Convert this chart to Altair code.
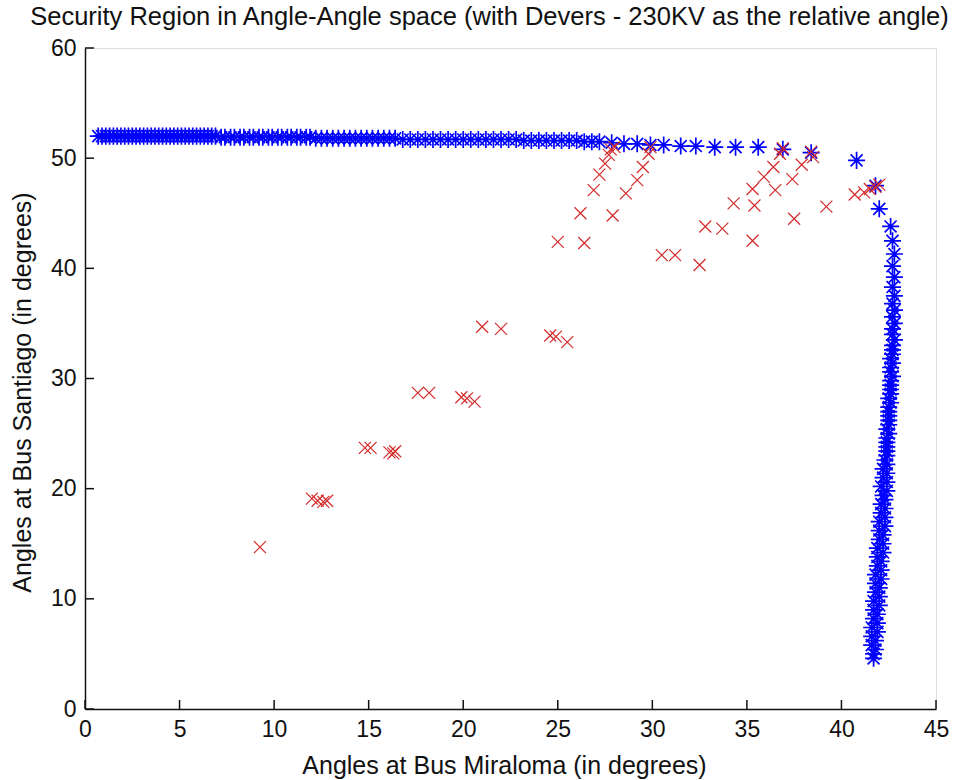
import altair as alt
import pandas as pd

title_text = "Security Region in Angle-Angle space (with Devers - 230KV as the relative angle)"
x_title = "Angles at Bus Miraloma (in degrees)"
y_title = "Angles at Bus Santiago (in degrees)"

# Blue '*' : security boundary, upper branch
upper_x = [0.7, 0.9, 1.1, 1.3, 1.5, 1.7, 1.9, 2.1, 2.3, 2.5, 2.7, 2.9, 3.1, 3.3, 3.5, 3.7,
           3.9, 4.1, 4.3, 4.5, 4.7, 4.9, 5.1, 5.3, 5.5, 5.7, 5.9, 6.1, 6.3, 6.5, 6.7, 6.9,
           7.2, 7.4, 7.7, 7.9, 8.2, 8.4, 8.7, 8.9, 9.2, 9.4, 9.7, 9.9, 10.2, 10.4, 10.7, 10.9,
           11.2, 11.4, 11.7, 11.9,
           12.2, 12.5, 12.8, 13.1, 13.4, 13.7, 14.0, 14.3, 14.6, 14.9, 15.2, 15.5, 15.8, 16.1, 16.4,
           16.8, 17.2, 17.6, 18.0, 18.4, 18.8, 19.2, 19.6, 20.0, 20.4, 20.8, 21.2, 21.6, 22.0,
           22.4, 22.8, 23.2, 23.6, 24.0, 24.4, 24.8, 25.2, 25.6, 26.0, 26.4, 26.8, 27.2,
           27.85, 28.5, 29.2, 29.9, 30.6, 31.5, 32.3, 33.3, 34.4, 35.6, 36.9, 38.4, 40.8, 41.8, 42.0]
upper_y = [52.0, 52.0, 52.0, 52.0, 52.0, 52.0, 52.0, 52.0, 52.0, 52.0, 52.0, 52.0, 52.0, 52.0, 52.0, 52.0,
           52.0, 52.0, 52.0, 52.0, 52.0, 52.0, 52.0, 52.0, 52.0, 52.0, 52.0, 52.0, 52.0, 52.0, 52.0, 52.0,
           51.9, 51.9, 51.9, 51.9, 51.9, 51.9, 51.9, 51.9, 51.9, 51.9, 51.9, 51.9, 51.9, 51.9, 51.9, 51.9,
           51.9, 51.9, 51.9, 51.9,
           51.8, 51.8, 51.8, 51.8, 51.8, 51.8, 51.8, 51.8, 51.8, 51.8, 51.8, 51.8, 51.8, 51.8, 51.8,
           51.7, 51.7, 51.7, 51.7, 51.7, 51.7, 51.7, 51.7, 51.7, 51.7, 51.7, 51.7, 51.7, 51.7,
           51.7, 51.7, 51.6, 51.6, 51.6, 51.6, 51.6, 51.6, 51.6, 51.6, 51.5, 51.5, 51.5,
           51.4, 51.3, 51.3, 51.2, 51.2, 51.1, 51.1, 51.0, 51.0, 51.0, 50.8, 50.5, 49.8, 47.5, 45.4]

# Blue '*' : security boundary, right branch
right_x = [42.6, 42.7, 42.8, 42.7, 42.8, 42.7, 42.8, 42.7, 42.8, 42.7, 42.8, 42.7, 42.7, 42.8,
           42.7, 42.7, 42.7, 42.6, 42.7, 42.6, 42.6, 42.7, 42.6, 42.6, 42.6, 42.6, 42.5, 42.6,
           42.5, 42.5, 42.5, 42.5, 42.5, 42.4, 42.5, 42.4, 42.4, 42.4, 42.4, 42.4, 42.3, 42.4,
           42.2, 42.4, 42.2, 42.4, 42.1, 42.4, 42.2, 42.3, 42.1, 42.3, 42.1, 42.3, 42.0, 42.3,
           42.0, 42.2, 42.0, 42.2, 41.9, 42.2, 41.9, 42.1, 41.9, 42.1, 41.8, 42.1, 41.8, 42.0,
           41.8, 42.0, 41.7, 42.0, 41.7, 41.9, 41.7, 41.9, 41.6, 41.9, 41.6, 41.8, 41.6, 41.8,
           41.7, 41.7]
right_y = [43.8, 42.5, 41.3, 40.2, 39.2, 38.3, 37.5, 36.8, 36.2, 35.6, 35.0, 34.5, 34.0, 33.5,
           33.0, 32.6, 32.2, 31.8, 31.4, 31.0, 30.6, 30.2, 29.8, 29.4, 29.0, 28.6, 28.2, 27.8,
           27.4, 27.0, 26.6, 26.2, 25.8, 25.4, 25.0, 24.6, 24.2, 23.8, 23.4, 23.0, 22.6, 22.2,
           21.8, 21.4, 21.0, 20.6, 20.2, 19.8, 19.4, 19.0, 18.6, 18.2, 17.8, 17.4, 17.0, 16.6,
           16.2, 15.8, 15.4, 15.0, 14.6, 14.2, 13.8, 13.4, 13.0, 12.6, 12.2, 11.8, 11.4, 11.0,
           10.6, 10.2, 9.8, 9.4, 9.0, 8.6, 8.2, 7.8, 7.4, 7.0, 6.6, 6.2, 5.8, 5.4,
           5.0, 4.6]

# Red 'x' : operating points
red_x = [9.25, 12.0, 12.3, 12.6, 12.8, 14.8, 15.1, 16.1, 16.3, 16.4, 17.6, 18.2,
         19.9, 20.2, 20.6, 21.0, 22.0, 24.6, 24.9, 25.5,
         25.0, 26.4, 26.2, 26.9, 27.2, 27.5, 27.7, 27.8, 28.0,
         27.9, 28.6, 29.2, 29.5, 29.8, 29.9,
         30.5, 31.2, 32.5, 32.8, 33.7, 34.3, 35.3, 35.4, 35.3, 35.9, 36.4, 36.75, 36.9,
         36.5, 37.4, 37.5, 37.9, 38.5, 38.4, 39.2, 40.7, 41.2, 41.5, 41.8, 42.0]
red_y = [14.7, 19.1, 18.9, 18.8, 18.9, 23.7, 23.7, 23.3, 23.2, 23.4, 28.7, 28.7,
         28.3, 28.2, 27.9, 34.7, 34.5, 33.9, 33.8, 33.3,
         42.4, 42.3, 45.0, 47.1, 48.5, 49.5, 50.3, 50.8, 51.0,
         44.8, 46.8, 48.0, 49.2, 50.4, 51.0,
         41.2, 41.2, 40.3, 43.8, 43.6, 45.9, 42.5, 45.7, 47.2, 48.3, 49.2, 50.4, 50.9,
         47.1, 48.1, 44.5, 49.4, 50.1, 50.6, 45.6, 46.7, 46.9, 47.2, 47.4, 47.6]

x_ticks = [0, 5, 10, 15, 20, 25, 30, 35, 40, 45]
y_ticks = [0, 10, 20, 30, 40, 50, 60]

STAR = "M-1,0L1,0M0,-1L0,1M-0.7,-0.7L0.7,0.7M-0.7,0.7L0.7,-0.7"
XMARK = "M-1,-1L1,1M-1,1L1,-1"

W, H = 851, 661
FONT = "Liberation Sans"

blue_df = pd.DataFrame({"x": upper_x + right_x, "y": upper_y + right_y})
red_df = pd.DataFrame({"x": red_x, "y": red_y})
xt_df = pd.DataFrame({"v": x_ticks})
yt_df = pd.DataFrame({"v": y_ticks})

xs = alt.Scale(domain=[0, 45], nice=False, zero=False)
ys = alt.Scale(domain=[0, 60], nice=False, zero=False)

common_axis = dict(grid=False, ticks=False, domainColor="#111111", domainWidth=1.5,
                   labelFont=FONT, labelFontSize=23, labelColor="#111111",
                   titleFont=FONT, titleFontSize=25, titleFontWeight="normal",
                   titleColor="#111111", labelFlush=False)
x_axis = alt.Axis(values=x_ticks, title=x_title, labelPadding=9,
                  titleX=419, titleY=56, titleBaseline="middle", titleAlign="center",
                  **common_axis)
y_axis = alt.Axis(values=y_ticks, title=y_title, labelPadding=9,
                  titleX=-63, titleY=344, titleBaseline="middle", titleAlign="center",
                  titleAngle=270, **common_axis)

blue = alt.Chart(blue_df).mark_point(
    shape=STAR, size=290, stroke="#0000ff", strokeWidth=1.7, filled=False, opacity=1
).encode(
    x=alt.X("x:Q", scale=xs, axis=x_axis),
    y=alt.Y("y:Q", scale=ys, axis=y_axis),
)

red = alt.Chart(red_df).mark_point(
    shape=XMARK, size=144, stroke="#d42a2a", strokeWidth=1.2, filled=False, opacity=1
).encode(
    x=alt.X("x:Q", scale=xs, axis=x_axis),
    y=alt.Y("y:Q", scale=ys, axis=y_axis),
)

xticks = alt.Chart(xt_df).mark_rule(color="#111111", strokeWidth=1.5).encode(
    x=alt.X("v:Q", scale=xs, axis=x_axis),
    y=alt.value(H),
    y2=alt.value(H - 9),
)

yticks = alt.Chart(yt_df).mark_rule(color="#111111", strokeWidth=1.5).encode(
    y=alt.Y("v:Q", scale=ys, axis=y_axis),
    x=alt.value(0),
    x2=alt.value(9),
)

chart = alt.layer(blue, red, xticks, yticks).properties(
    width=W,
    height=H,
    autosize="none",
    padding={"left": 85, "top": 48, "right": 19, "bottom": 71},
    title=alt.TitleParams(text=title_text, font=FONT, fontSize=25.5, fontWeight="normal",
                          color="#111111", anchor="middle", dx=-21, dy=-3),
).configure_view(stroke=None).configure(background="white")

chart.save("out.html", embed_options={"renderer": "svg", "actions": False})
